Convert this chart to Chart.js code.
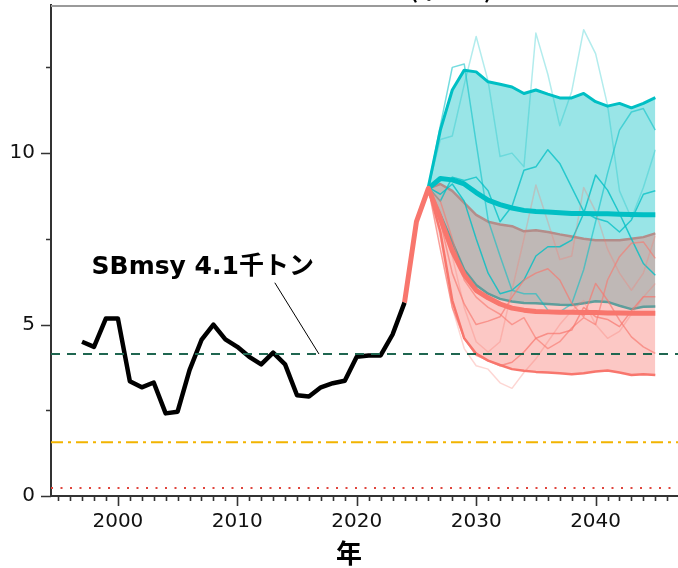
<!DOCTYPE html>
<html>
<head>
<meta charset="utf-8">
<script src="https://cdn.jsdelivr.net/npm/chart.js@4"></script>
<style>
  html, body { margin: 0; padding: 0; background: #fff; }
  #contenedor { width: 678px; height: 568px; }
</style>
</head>
<body>
<div id="contenedor"><canvas id="grafico" width="678" height="568"></canvas></div>
<script>
// --- datos ---
const anosHist = [1997, 1998, 1999, 2000, 2001, 2002, 2003, 2004, 2005, 2006, 2007, 2008, 2009, 2010,
                  2011, 2012, 2013, 2014, 2015, 2016, 2017, 2018, 2019, 2020, 2021, 2022, 2023, 2024];
const biomasaHist = [4.5, 4.35, 5.18, 5.18, 3.35, 3.17, 3.31, 2.41, 2.46, 3.67, 4.55, 5.0, 4.57, 4.35,
                     4.06, 3.84, 4.18, 3.84, 2.94, 2.9, 3.17, 3.29, 3.36, 4.06, 4.1, 4.1, 4.71, 5.64];

const anosRojoMed = [2024, 2025, 2026, 2027, 2028, 2029, 2030, 2031, 2032, 2033, 2034,
                     2035, 2036, 2037, 2038, 2039, 2040, 2041, 2042, 2043, 2044, 2045];
const rojoMediana = [5.64, 8.0, 8.97, 8.1, 7.15, 6.45, 6.0, 5.78, 5.6, 5.48, 5.42,
                     5.38, 5.37, 5.36, 5.36, 5.35, 5.35, 5.34, 5.34, 5.33, 5.33, 5.33];

const anosProy = [2026, 2027, 2028, 2029, 2030, 2031, 2032, 2033, 2034, 2035,
                  2036, 2037, 2038, 2039, 2040, 2041, 2042, 2043, 2044, 2045];
const rojoSup = [8.97, 9.1, 8.9, 8.55, 8.2, 8.0, 7.92, 7.87, 7.72, 7.75, 7.7, 7.63, 7.57, 7.5, 7.46, 7.46, 7.46, 7.5, 7.55, 7.66];
const rojoInf = [8.97, 7.7, 5.7, 4.6, 4.15, 3.95, 3.82, 3.7, 3.65, 3.62, 3.6, 3.58, 3.55, 3.58, 3.63, 3.66, 3.6, 3.53, 3.55, 3.53];
const cianSup = [9.02, 10.67, 11.84, 12.42, 12.37, 12.08, 12.01, 11.93, 11.74, 11.84, 11.72, 11.61, 11.61, 11.74, 11.5, 11.37, 11.45, 11.32, 11.45, 11.62];
const cianMediana = [8.97, 9.26, 9.22, 9.1, 8.85, 8.63, 8.5, 8.4, 8.33, 8.3, 8.28, 8.26, 8.24, 8.24, 8.23, 8.23, 8.22, 8.21, 8.2, 8.2];
const cianInf = [8.97, 8.2, 7.4, 6.6, 6.15, 5.9, 5.75, 5.67, 5.63, 5.62, 5.6, 5.58, 5.57, 5.62, 5.68, 5.66, 5.55, 5.45, 5.52, 5.53];

// trayectorias individuales (simulaciones)
const cianSims = [
  [9.0, 10.4, 10.5, 12.0, 13.4, 12.1, 9.9, 10.0, 9.6, 13.5, 12.3, 10.8, 11.8, 13.6, 12.9, 11.4, 8.9, 8.1, 9.0, 10.1],
  [9.0, 10.8, 12.5, 12.6, 10.3, 8.05, 7.0, 6.0, 5.9, 5.9, 5.42, 5.37, 5.6, 6.6, 8.0, 9.41, 10.67, 11.2, 11.3, 10.67],
  [9.0, 8.6, 9.3, 9.2, 9.3, 8.9, 8.0, 8.45, 9.5, 9.6, 10.1, 9.7, 9.0, 8.3, 8.1, 8.0, 7.7, 8.05, 8.8, 8.9],
  [9.0, 8.8, 9.1, 8.6, 7.5, 6.5, 5.9, 6.0, 6.3, 7.0, 7.27, 7.27, 7.46, 8.24, 9.36, 8.92, 8.24, 7.5, 6.78, 6.44]
];
const cianAlfa = [0.3, 0.55, 0.75, 0.8];
const rojoSims = [
  [8.97, 8.3, 7.0, 5.5, 4.5, 4.2, 4.5, 6.0, 7.5, 9.07, 8.0, 6.9, 7.0, 9.0, 8.3, 7.2, 6.5, 6.0, 6.5, 7.6],
  [8.97, 7.5, 5.5, 4.3, 3.8, 3.7, 3.3, 3.14, 3.6, 4.0, 4.5, 5.0, 5.4, 5.7, 5.0, 4.6, 4.8, 5.3, 5.8, 6.2],
  [8.97, 8.0, 6.5, 5.6, 5.0, 5.1, 5.23, 5.8, 6.3, 6.5, 6.63, 6.3, 5.62, 5.23, 6.2, 5.71, 5.13, 4.64, 4.35, 4.16],
  [8.97, 7.2, 5.5, 4.6, 4.1, 3.95, 3.8, 3.9, 4.2, 4.6, 4.74, 4.74, 4.84, 5.5, 5.23, 5.15, 4.94, 5.4, 5.81, 5.81],
  [8.97, 8.6, 7.5, 6.3, 5.8, 5.5, 5.3, 5.0, 5.2, 4.6, 4.3, 4.5, 4.9, 5.2, 5.0, 6.3, 6.98, 7.37, 7.41, 6.93]
];
const rojoAlfa = [0.3, 0.3, 0.65, 0.7, 0.6];

const sbMsy = 4.14;
const sbLimite = 1.57;
const sbBan = 0.23;
const xMin = 1994.4, xMax = 2046.9;
const yMin = 0, yMax = 14.32;

const CIAN = '0, 191, 196';
const ROJO = '248, 118, 109';

const pares = (xs, ys) => xs.map((x, i) => ({ x: x, y: ys[i] }));
const horizontal = (v) => [{ x: xMin, y: v }, { x: xMax, y: v }];

const datasets = [];

// líneas de referencia (encima)
datasets.push({ data: horizontal(sbMsy), borderColor: '#1f6650', borderWidth: 2, borderDash: [9, 7], order: 1 });
datasets.push({ data: horizontal(sbLimite), borderColor: '#f2b400', borderWidth: 2, borderDash: [12, 5, 3, 5], order: 1 });
datasets.push({ data: horizontal(sbBan), borderColor: '#e0453c', borderWidth: 2, borderDash: [2, 7.5], order: 1 });
datasets.push({ data: [{ x: 2013.14, y: 6.22 }, { x: 2016.84, y: 4.14 }], borderColor: '#000', borderWidth: 1, order: 1 });

// historia y medianas
datasets.push({ data: pares(anosHist, biomasaHist), borderColor: '#000', borderWidth: 4.5, order: 2 });
datasets.push({ data: pares(anosRojoMed, rojoMediana), borderColor: `rgb(${ROJO})`, borderWidth: 5, order: 3 });
datasets.push({ data: pares(anosProy, cianMediana), borderColor: `rgb(${CIAN})`, borderWidth: 5, order: 3 });

// simulaciones
rojoSims.forEach((s, i) => datasets.push({ data: pares(anosProy, s), borderColor: `rgba(${ROJO}, ${rojoAlfa[i]})`, borderWidth: 1.5, order: 4 }));
cianSims.forEach((s, i) => datasets.push({ data: pares(anosProy, s), borderColor: `rgba(${CIAN}, ${cianAlfa[i]})`, borderWidth: 1.5, order: 4 }));

// bordes de las bandas
datasets.push({ data: pares(anosProy, rojoSup), borderColor: '#b38d8a', borderWidth: 2.5, order: 5 });
datasets.push({ data: pares(anosProy, rojoInf), borderColor: `rgb(${ROJO})`, borderWidth: 2.5, order: 5 });
datasets.push({ data: pares(anosProy, cianInf), borderColor: '#5e9e9c', borderWidth: 2.5, order: 5 });
datasets.push({ data: pares(anosProy, cianSup), borderColor: `rgb(${CIAN})`, borderWidth: 3, order: 5 });

// rellenos de las bandas (rojo encima del cian)
const iRojo = datasets.length;
datasets.push({ data: pares(anosProy, rojoSup), borderColor: 'rgba(0,0,0,0)', borderWidth: 0, order: 6,
                fill: iRojo + 1, backgroundColor: `rgba(${ROJO}, 0.4)` });
datasets.push({ data: pares(anosProy, rojoInf), borderColor: 'rgba(0,0,0,0)', borderWidth: 0, order: 6 });
const iCian = datasets.length;
datasets.push({ data: pares(anosProy, cianSup), borderColor: 'rgba(0,0,0,0)', borderWidth: 0, order: 7,
                fill: iCian + 1, backgroundColor: `rgba(${CIAN}, 0.4)` });
datasets.push({ data: pares(anosProy, cianInf), borderColor: 'rgba(0,0,0,0)', borderWidth: 0, order: 7 });

const ejesPlugin = {
  id: 'ejes',
  afterDraw(chart) {
    const ctx = chart.ctx;
    const sx = chart.scales.x, sy = chart.scales.y;
    const area = chart.chartArea;
    ctx.save();
    ctx.strokeStyle = '#333';
    ctx.lineWidth = 1.6;
    ctx.beginPath();
    for (let a = Math.ceil(xMin); a <= xMax; a++) {
      const px = Math.round(sx.getPixelForValue(a)) + 0.5;
      const largo = a % 10 === 0 ? 10 : 5;
      ctx.moveTo(px, area.bottom);
      ctx.lineTo(px, area.bottom + largo);
    }
    for (let v = 0; v <= yMax; v += 2.5) {
      const py = Math.round(sy.getPixelForValue(v)) + 0.5;
      const largo = v % 5 === 0 ? 10 : 5;
      ctx.moveTo(area.left, py);
      ctx.lineTo(area.left - largo, py);
    }
    ctx.stroke();
    // borde superior gris
    ctx.strokeStyle = '#9a9a9a';
    ctx.lineWidth = 2;
    ctx.beginPath();
    ctx.moveTo(area.left, area.top + 1);
    ctx.lineTo(area.right, area.top + 1);
    ctx.stroke();
    // textos
    ctx.fillStyle = '#000';
    ctx.font = 'bold 25px "DejaVu Sans", "Noto Sans CJK JP", sans-serif';
    ctx.textAlign = 'left';
    ctx.textBaseline = 'alphabetic';
    ctx.fillText('SBmsy 4.1千トン', sx.getPixelForValue(1997.8), sy.getPixelForValue(6.47));
    ctx.font = 'bold 26px "Noto Sans CJK JP", sans-serif';
    ctx.textAlign = 'center';
    ctx.textBaseline = 'middle';
    ctx.fillText('年', 349, 553);
    ctx.font = 'bold 22px "Noto Sans CJK JP", sans-serif';
    ctx.textBaseline = 'alphabetic';
    ctx.fillText('(千トン)', 451, -2);
    ctx.restore();
  }
};

new Chart(document.getElementById('grafico'), {
  type: 'line',
  data: { datasets: datasets },
  plugins: [ejesPlugin],
  options: {
    responsive: false,
    animation: false,
    events: [],
    layout: { padding: { top: 5, right: 0, left: 0, bottom: 0 } },
    elements: { point: { radius: 0 }, line: { tension: 0, borderJoinStyle: 'round', borderCapStyle: 'butt' } },
    plugins: { legend: { display: false }, tooltip: { enabled: false }, filler: { propagate: false } },
    scales: {
      x: {
        type: 'linear', min: xMin, max: xMax,
        grid: { display: false, tickLength: 10 },
        border: { color: '#333', width: 2 },
        ticks: {
          autoSkip: false, padding: 4, color: '#111', maxRotation: 0,
          font: { family: '"DejaVu Sans", sans-serif', size: 20 },
          callback: (v) => String(v)
        },
        afterBuildTicks: (scale) => { scale.ticks = [2000, 2010, 2020, 2030, 2040].map(v => ({ value: v })); },
        afterFit: (scale) => { scale.height = 72; scale.paddingLeft = 0; scale.paddingRight = 0; }
      },
      y: {
        type: 'linear', min: yMin, max: yMax,
        grid: { display: false, tickLength: 10 },
        border: { color: '#333', width: 2 },
        ticks: {
          padding: 6, color: '#111',
          font: { family: '"DejaVu Sans", sans-serif', size: 20 },
          callback: (v) => String(v)
        },
        afterBuildTicks: (scale) => { scale.ticks = [0, 5, 10].map(v => ({ value: v })); },
        afterFit: (scale) => { scale.width = 51; scale.paddingTop = 0; scale.paddingBottom = 0; }
      }
    }
  }
});
</script>
</body>
</html>
